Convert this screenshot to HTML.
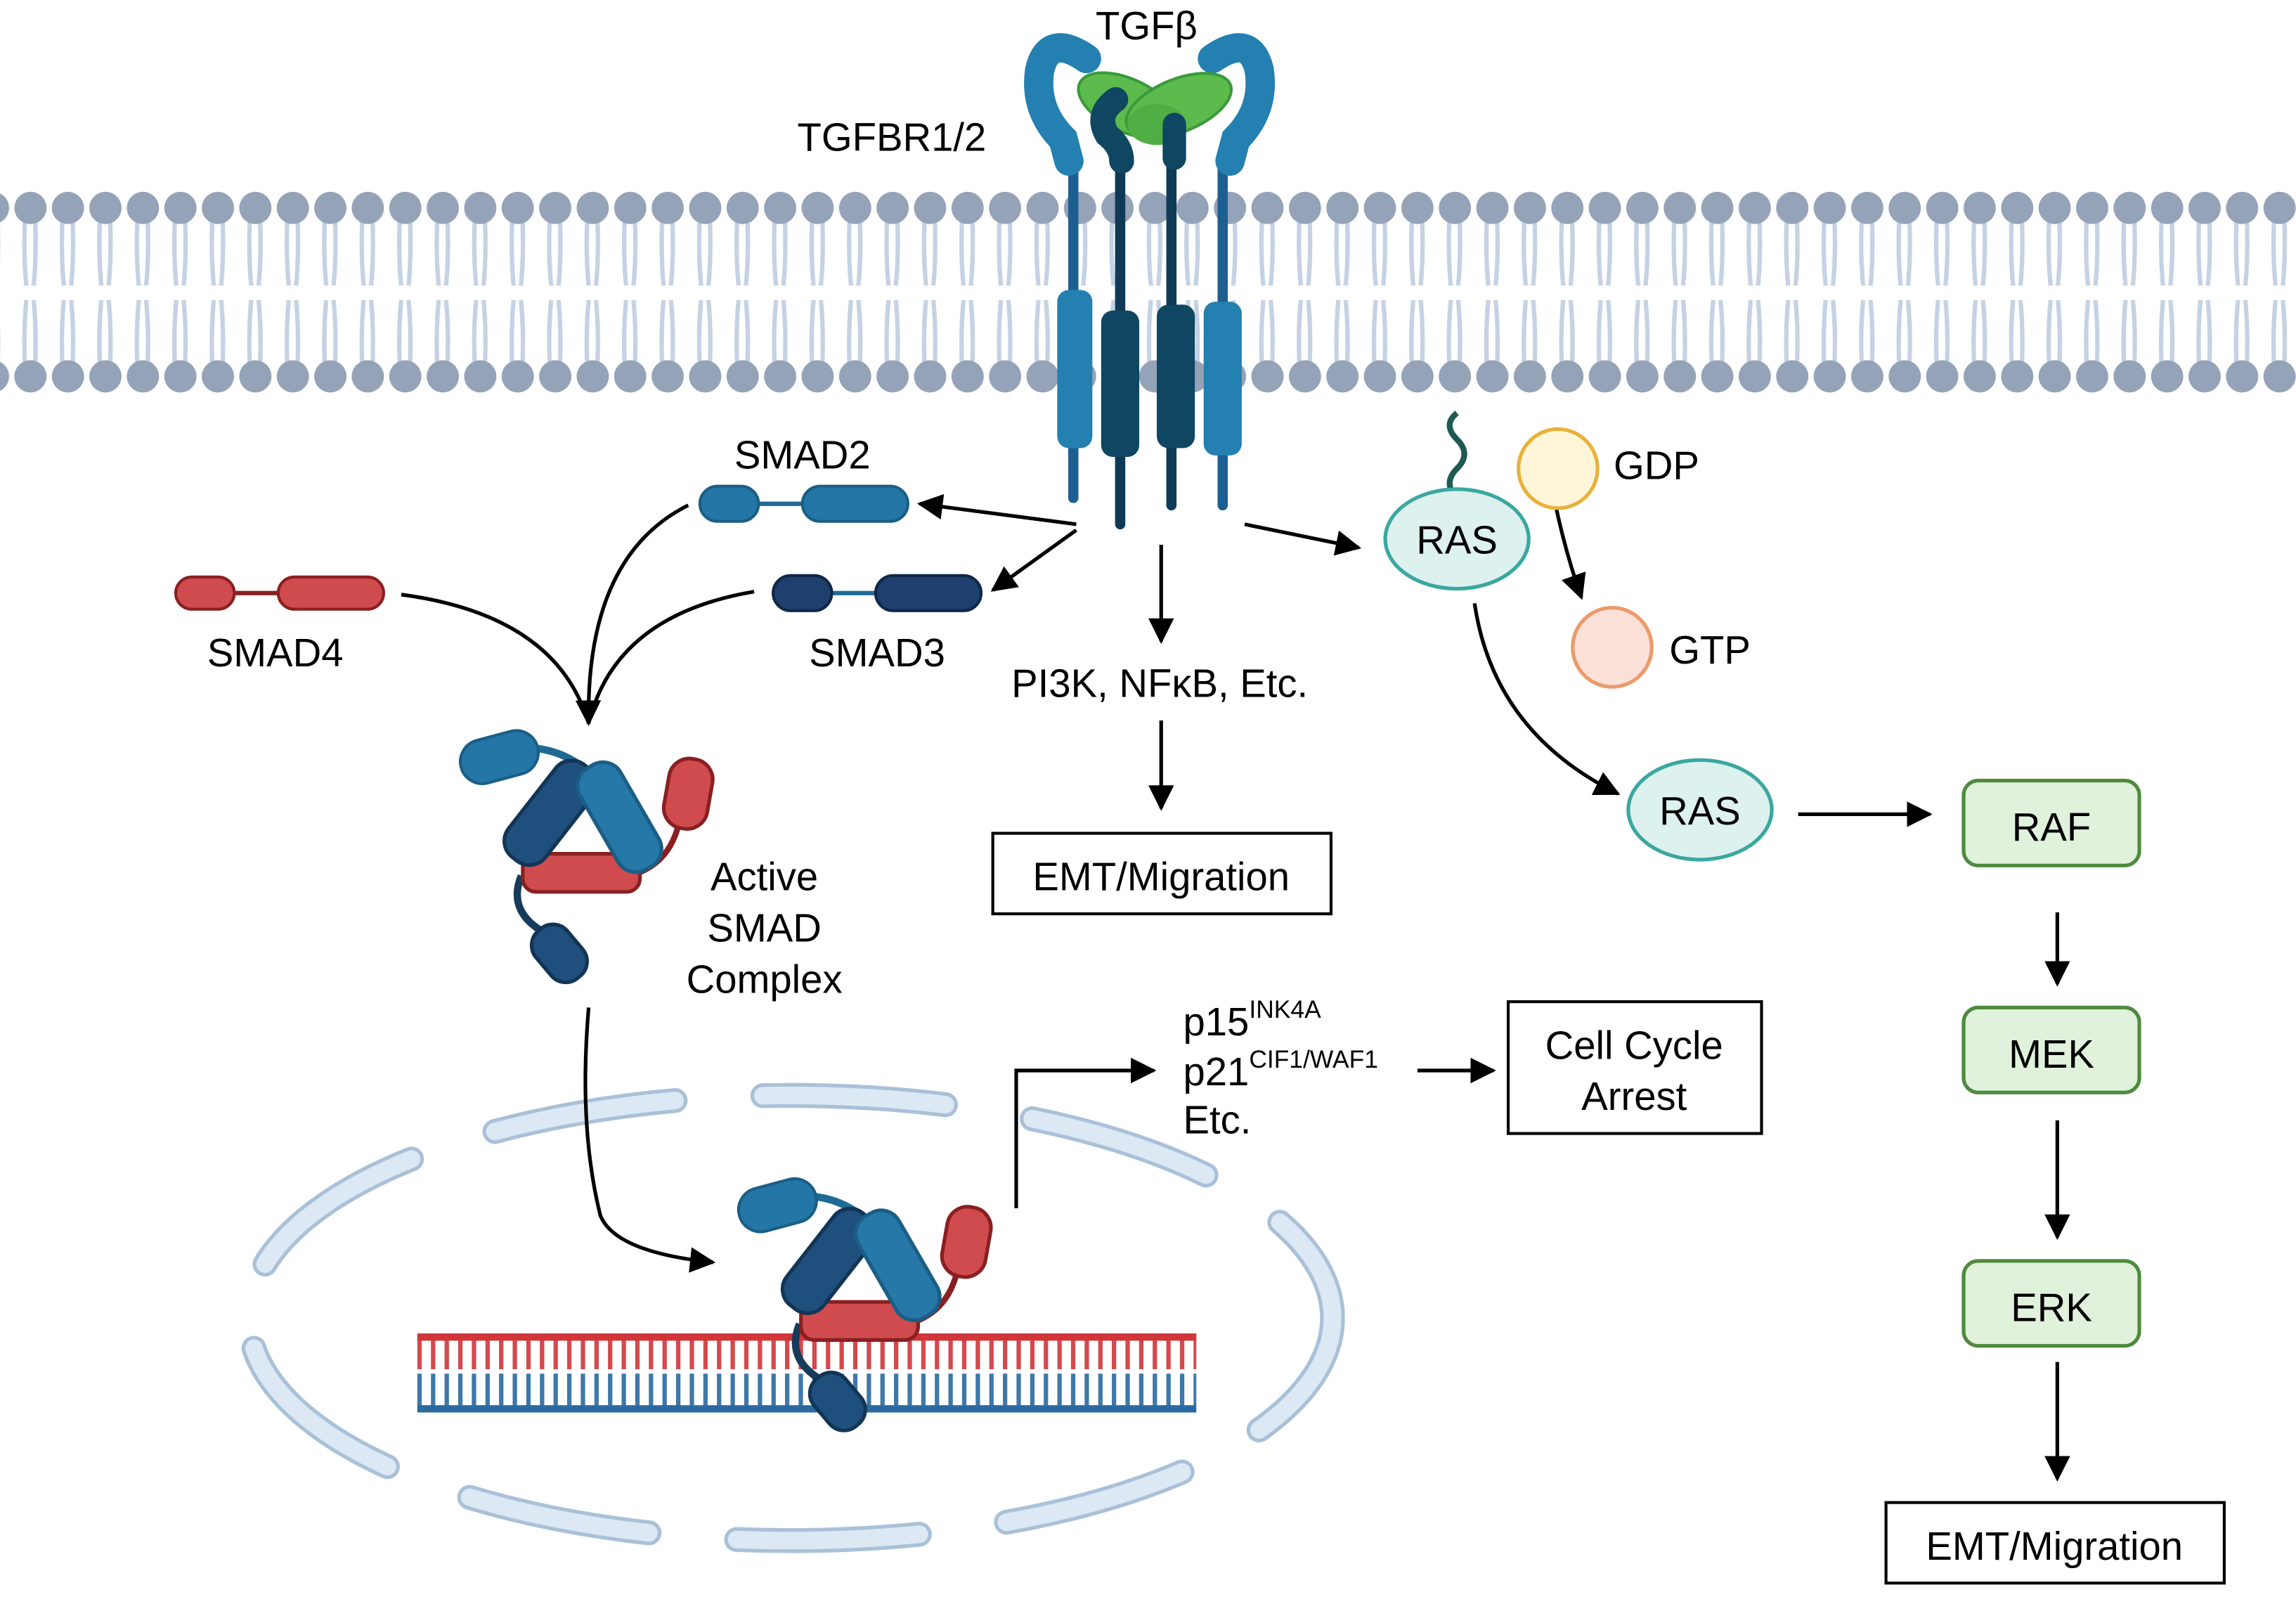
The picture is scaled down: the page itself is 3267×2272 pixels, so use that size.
<!DOCTYPE html>
<html><head><meta charset="utf-8"><style>html,body{margin:0;padding:0;background:#fff}svg{display:block}</style></head>
<body>
<svg width="3267" height="2272" viewBox="0 0 1568 1090.5" preserveAspectRatio="none" xmlns="http://www.w3.org/2000/svg" font-family="Liberation Sans, Arial, sans-serif">
<defs>
<pattern id="mem" x="8" y="0" width="25.6" height="1090.5" patternUnits="userSpaceOnUse">
 <path d="M9 150 Q8 175 10 195 M16 150 Q17 175 15 195 M10 205 Q8 225 9 250 M15 205 Q17 225 16 250" stroke="#c5d2e4" stroke-width="3" fill="none"/>
 <circle cx="12.8" cy="142" r="11" fill="#95a3b8"/>
 <circle cx="12.8" cy="257" r="11" fill="#95a3b8"/>
</pattern>
<marker id="ah" viewBox="0 0 10 10" refX="9" refY="5" markerWidth="7" markerHeight="7" orient="auto-start-reverse"><path d="M0 0 L10 5 L0 10 z" fill="#000"/></marker>
<g id="cx">
 <path d="M340 512 Q380 505 405 530" stroke="#1e6a94" stroke-width="5" fill="none"/>
 <path d="M356 598 Q345 625 378 640" stroke="#153c5a" stroke-width="5" fill="none"/>
 <path d="M430 598 Q460 590 465 555" stroke="#8a1f22" stroke-width="4" fill="none"/>
 <rect x="314" y="502" width="54" height="30" rx="15" fill="#2476a6" stroke="#1a5e86" stroke-width="2" transform="rotate(-15 341 517)"/>
 <rect x="357" y="583" width="80" height="26" rx="9" fill="#cf4b4e" stroke="#8a1f22" stroke-width="2.5"/>
 <rect x="360" y="515" width="32" height="80" rx="14" fill="#1f4f7c" stroke="#123556" stroke-width="2.5" transform="rotate(38 376 555)"/>
 <rect x="407" y="518" width="32" height="80" rx="14" fill="#2678a8" stroke="#1a5e86" stroke-width="2.5" transform="rotate(-30 423 558)"/>
 <rect x="455" y="518" width="30" height="48" rx="14" fill="#cf4b4e" stroke="#8a1f22" stroke-width="2.5" transform="rotate(10 470 542)"/>
 <rect x="368" y="630" width="28" height="42" rx="13" fill="#1f4f7c" stroke="#123556" stroke-width="2.5" transform="rotate(-40 382 651)"/>
</g>
</defs>
<rect width="1568" height="1090.5" fill="#fff"/>
<rect x="0" y="120" width="1568" height="150" fill="url(#mem)"/>

<!-- receptor -->
<g>
 <line x1="733" y1="105" x2="733" y2="340" stroke="#1e5f92" stroke-width="7" stroke-linecap="round"/>
 <line x1="835" y1="105" x2="835" y2="345" stroke="#1e5f92" stroke-width="7" stroke-linecap="round"/>
 <line x1="765" y1="105" x2="765" y2="358" stroke="#0f3a55" stroke-width="7" stroke-linecap="round"/>
 <line x1="800" y1="105" x2="800" y2="345" stroke="#0f3a55" stroke-width="7" stroke-linecap="round"/>
 <rect x="722" y="198" width="24" height="108" rx="8" fill="#2480b0"/>
 <rect x="822" y="206" width="26" height="105" rx="8" fill="#2480b0"/>
 <rect x="752" y="212" width="26" height="100" rx="8" fill="#0f4762"/>
 <rect x="790" y="208" width="26" height="98" rx="8" fill="#0f4762"/>
 <path d="M742 40 Q716 22 710 48 Q706 75 726 95 L730 110" stroke="#2380b0" stroke-width="20" fill="none" stroke-linecap="round"/>
 <path d="M828 40 Q854 22 860 48 Q864 75 844 95 L840 110" stroke="#2380b0" stroke-width="20" fill="none" stroke-linecap="round"/>
 <ellipse cx="770" cy="72" rx="36" ry="18" transform="rotate(25 770 72)" fill="#5cbb4c" stroke="#3a9a3a" stroke-width="2"/>
 <ellipse cx="805" cy="72" rx="38" ry="18" transform="rotate(-22 805 72)" fill="#5cbb4c" stroke="#3a9a3a" stroke-width="2"/>
 <ellipse cx="790" cy="85" rx="20" ry="14" fill="#4fae44"/>
 <path d="M762 68 Q748 78 756 92 Q766 100 766 110" stroke="#0f4762" stroke-width="17" fill="none" stroke-linecap="round"/>
 <path d="M802 85 L802 108" stroke="#0f4762" stroke-width="16" fill="none" stroke-linecap="round"/>
</g>
<text x="783" y="27" font-size="27" text-anchor="middle">TGFβ</text>
<text x="609" y="103" font-size="27" text-anchor="middle">TGFBR1/2</text>

<!-- SMADs -->
<g>
 <line x1="500" y1="344" x2="580" y2="344" stroke="#1e6a94" stroke-width="3"/>
 <rect x="478" y="332" width="40" height="24" rx="12" fill="#2476a6" stroke="#1a5e86" stroke-width="2"/>
 <rect x="548" y="332" width="72" height="24" rx="12" fill="#2476a6" stroke="#1a5e86" stroke-width="2"/>
 <line x1="540" y1="405" x2="620" y2="405" stroke="#1e6a94" stroke-width="3"/>
 <rect x="528" y="393" width="40" height="24" rx="12" fill="#1f3f6e" stroke="#0f2848" stroke-width="2"/>
 <rect x="598" y="393" width="72" height="24" rx="12" fill="#1f3f6e" stroke="#0f2848" stroke-width="2"/>
 <line x1="140" y1="405" x2="210" y2="405" stroke="#8a1f22" stroke-width="3"/>
 <rect x="120" y="394" width="40" height="22" rx="11" fill="#cf4b4e" stroke="#8a1f22" stroke-width="2"/>
 <rect x="190" y="394" width="72" height="22" rx="11" fill="#cf4b4e" stroke="#8a1f22" stroke-width="2"/>
</g>
<text x="548" y="320" font-size="27" text-anchor="middle">SMAD2</text>
<text x="599" y="455" font-size="27" text-anchor="middle">SMAD3</text>
<text x="188" y="455" font-size="27" text-anchor="middle">SMAD4</text>

<use href="#cx"/>
<text x="522" y="608" font-size="27" text-anchor="middle">Active</text>
<text x="522" y="643" font-size="27" text-anchor="middle">SMAD</text>
<text x="522" y="678" font-size="27" text-anchor="middle">Complex</text>

<!-- nucleus -->
<ellipse cx="540" cy="900" rx="370" ry="152" fill="none" stroke="#a9c1d8" stroke-width="17" stroke-dasharray="125 60" stroke-dashoffset="30" stroke-linecap="round"/>
<ellipse cx="540" cy="900" rx="370" ry="152" fill="none" stroke="#dce8f4" stroke-width="12" stroke-dasharray="125 60" stroke-dashoffset="30" stroke-linecap="round"/>

<!-- DNA -->
<line x1="285" y1="913" x2="817" y2="913" stroke="#d0363a" stroke-width="5"/>
<line x1="285" y1="962" x2="817" y2="962" stroke="#2a6aa0" stroke-width="5"/>
<line x1="285" y1="924" x2="817" y2="924" stroke="#d0363a" stroke-width="22" stroke-dasharray="3 6.3" opacity="0.9"/>
<line x1="285" y1="949" x2="817" y2="949" stroke="#2a6aa0" stroke-width="22" stroke-dasharray="3 6.3" opacity="0.9"/>

<use href="#cx" transform="translate(190 306)"/>

<!-- arrows -->
<g stroke="#000" stroke-width="2.5" fill="none">
 <line x1="735" y1="358" x2="628" y2="344" marker-end="url(#ah)"/>
 <line x1="735" y1="362" x2="678" y2="403" marker-end="url(#ah)"/>
 <line x1="793" y1="372" x2="793" y2="438" marker-end="url(#ah)"/>
 <line x1="793" y1="492" x2="793" y2="552" marker-end="url(#ah)"/>
 <line x1="850" y1="358" x2="928" y2="374" marker-end="url(#ah)"/>
 <path d="M470 345 Q400 380 402 494" marker-end="url(#ah)"/>
 <path d="M515 404 Q420 420 402 494"/>
 <path d="M274 406 Q380 420 402 494"/>
 <path d="M1063 348 Q1070 380 1080 408" marker-end="url(#ah)"/>
 <path d="M1007 412 Q1020 500 1105 542" marker-end="url(#ah)"/>
 <line x1="1228" y1="556" x2="1318" y2="556" marker-end="url(#ah)"/>
 <line x1="1405" y1="623" x2="1405" y2="672" marker-end="url(#ah)"/>
 <line x1="1405" y1="765" x2="1405" y2="845" marker-end="url(#ah)"/>
 <line x1="1405" y1="930" x2="1405" y2="1010" marker-end="url(#ah)"/>
 <path d="M402 688 Q395 770 410 830 Q420 855 487 862" marker-end="url(#ah)"/>
 <polyline points="694,825 694,731 788,731" marker-end="url(#ah)"/>
 <line x1="968" y1="731" x2="1020" y2="731" marker-end="url(#ah)"/>
</g>

<text x="792" y="476" font-size="27" text-anchor="middle">PI3K, NFκB, Etc.</text>
<rect x="678" y="569" width="231" height="55" fill="#fff" stroke="#000" stroke-width="2"/>
<text x="793" y="608" font-size="27" text-anchor="middle">EMT/Migration</text>

<text x="808" y="707" font-size="27">p15<tspan font-size="17" dy="-12">INK4A</tspan></text>
<text x="808" y="741" font-size="27">p21<tspan font-size="17" dy="-12">CIF1/WAF1</tspan></text>
<text x="808" y="774" font-size="27">Etc.</text>
<rect x="1030" y="684" width="173" height="90" fill="#fff" stroke="#000" stroke-width="2"/>
<text x="1116" y="723" font-size="27" text-anchor="middle">Cell Cycle</text>
<text x="1116" y="758" font-size="27" text-anchor="middle">Arrest</text>

<!-- RAS -->
<path d="M995 340 Q985 330 995 320 Q1005 310 995 300 Q985 290 995 282" stroke="#1f5a52" stroke-width="4" fill="none"/>
<ellipse cx="995" cy="368" rx="49" ry="34" fill="#ddf1ef" stroke="#3aa8a0" stroke-width="2.5"/>
<text x="995" y="378" font-size="27" text-anchor="middle">RAS</text>
<circle cx="1064" cy="320" r="27" fill="#fff6da" stroke="#e8b23a" stroke-width="2.5"/>
<text x="1102" y="327" font-size="27">GDP</text>
<circle cx="1101" cy="442" r="27" fill="#fbe1d8" stroke="#ec9a6a" stroke-width="2.5"/>
<text x="1140" y="453" font-size="27">GTP</text>
<ellipse cx="1161" cy="553" rx="49" ry="34" fill="#ddf1ef" stroke="#3aa8a0" stroke-width="2.5"/>
<text x="1161" y="563" font-size="27" text-anchor="middle">RAS</text>

<g fill="#e1f2dc" stroke="#4f8a3e" stroke-width="2.5">
 <rect x="1341" y="533" width="120" height="58" rx="10"/>
 <rect x="1341" y="688" width="120" height="58" rx="10"/>
 <rect x="1341" y="861" width="120" height="58" rx="10"/>
</g>
<text x="1401" y="574" font-size="27" text-anchor="middle">RAF</text>
<text x="1401" y="729" font-size="27" text-anchor="middle">MEK</text>
<text x="1401" y="902" font-size="27" text-anchor="middle">ERK</text>
<rect x="1288" y="1026" width="231" height="55" fill="#fff" stroke="#000" stroke-width="2"/>
<text x="1403" y="1065" font-size="27" text-anchor="middle">EMT/Migration</text>
</svg>
</body></html>
